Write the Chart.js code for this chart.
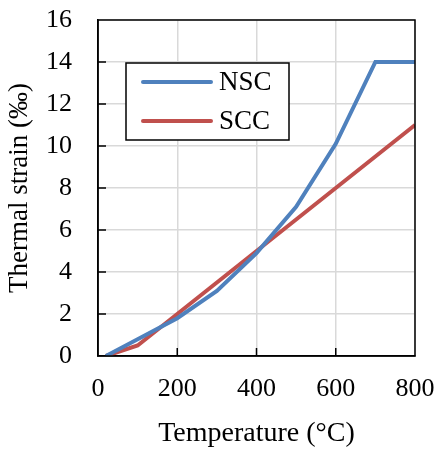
<!DOCTYPE html>
<html>
<head>
<meta charset="utf-8">
<script src="https://cdn.jsdelivr.net/npm/chart.js@4"></script>
<style>
  body { margin: 0; background: #fff; }
  #wrap { width: 436px; height: 450px; }
</style>
</head>
<body>
<div id="wrap"><canvas id="chart" width="436" height="450"></canvas></div>
<script>
// Data
const temps = [20, 100, 200, 300, 400, 500, 600, 700, 800];
const nscStrain = [0, 0.8, 1.8, 3.1, 4.9, 7.1, 10.1, 14, 14];
const sccStrain = [0, 0.5, 2.0, 3.5, 5.0, 6.5, 8.0, 9.5, 11.0];
const seriesNames = ['NSC', 'SCC'];
const seriesColors = ['#4F81BD', '#C0504D'];

const serif = '"Liberation Serif", "Times New Roman", serif';

// Frame, inside ticks + box legend
const extras = {
  id: 'extras',
  afterDraw(chart) {
    const { ctx, chartArea: a, scales } = chart;
    ctx.save();
    ctx.strokeStyle = '#000';
    ctx.lineWidth = 1.5;
    ctx.strokeRect(a.left, a.top, a.right - a.left, a.bottom - a.top);
    ctx.beginPath();
    [200, 400, 600].forEach(v => {
      const x = scales.x.getPixelForValue(v);
      ctx.moveTo(x, a.bottom);
      ctx.lineTo(x, a.bottom - 8);
    });
    for (let v = 2; v < 16; v += 2) {
      const y = scales.y.getPixelForValue(v);
      ctx.moveTo(a.left, y);
      ctx.lineTo(a.left + 8, y);
    }
    ctx.stroke();

    // legend box
    const bx = a.left + 28, by = a.top + 43, bw = 163, bh = 77;
    ctx.fillStyle = '#fff';
    ctx.fillRect(bx, by, bw, bh);
    ctx.lineWidth = 1.5;
    ctx.strokeRect(bx, by, bw, bh);
    ctx.font = '27px ' + serif;
    ctx.textBaseline = 'middle';
    ctx.lineCap = 'round';
    seriesNames.forEach((name, i) => {
      const y = by + 19 + i * 39;
      ctx.strokeStyle = seriesColors[i];
      ctx.lineWidth = 4;
      ctx.beginPath();
      ctx.moveTo(bx + 17, y);
      ctx.lineTo(bx + 85, y);
      ctx.stroke();
      ctx.fillStyle = '#000';
      ctx.fillText(name, bx + 93, y + 1);
    });
    ctx.restore();
  }
};

const ctx = document.getElementById('chart').getContext('2d');
new Chart(ctx, {
  type: 'line',
  data: {
    datasets: seriesNames.map((name, i) => ({
      label: name,
      data: temps.map((t, j) => ({ x: t, y: (i === 0 ? nscStrain : sccStrain)[j] })),
      borderColor: seriesColors[i],
      borderWidth: 4,
      pointRadius: 0,
      tension: 0,
      fill: false,
    })),
  },
  options: {
    responsive: false,
    animation: false,
    layout: { padding: { top: 20, right: 21, left: 0, bottom: 0 } },
    plugins: { legend: { display: false }, tooltip: { enabled: false } },
    scales: {
      x: {
        type: 'linear',
        min: 0,
        max: 800,
        ticks: { stepSize: 200, color: '#000', font: { family: serif, size: 26 }, padding: 18 },
        grid: { color: '#D9D9D9', lineWidth: 1.5, drawTicks: false },
        border: { color: '#000', width: 1.5 },
        title: { display: true, text: 'Temperature (°C)', color: '#000', font: { family: serif, size: 28 }, padding: { top: 0, bottom: 0 } },
        afterFit(s) { s.height = 94; s.paddingLeft = 0; s.paddingRight = 0; },
      },
      y: {
        min: 0,
        max: 16,
        ticks: { stepSize: 2, color: '#000', font: { family: serif, size: 26 }, padding: 26 },
        grid: { color: '#D9D9D9', lineWidth: 1.5, drawTicks: false },
        border: { color: '#000', width: 1.5 },
        title: { display: true, text: 'Thermal strain (‰)', color: '#000', font: { family: serif, size: 27 }, padding: { top: 4, bottom: 0 } },
        afterFit(s) { s.width = 98; s.paddingTop = 0; s.paddingBottom = 0; },
      },
    },
  },
  plugins: [extras],
});
</script>
</body>
</html>
